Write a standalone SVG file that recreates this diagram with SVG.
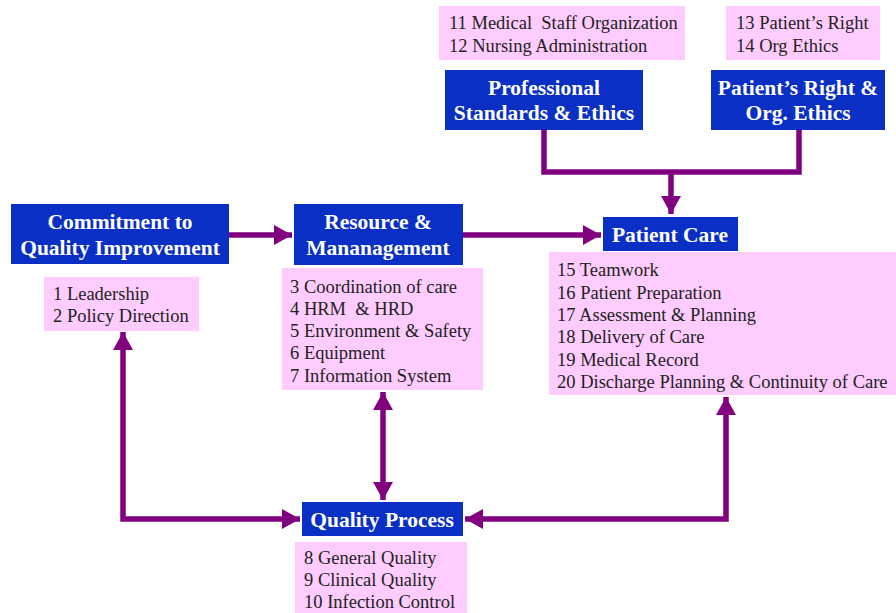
<svg xmlns="http://www.w3.org/2000/svg" width="896" height="613" viewBox="0 0 896 613">
<defs>
<style>
.blue{fill:#0a2fc4;}
.pink{fill:#ffccff;}
.bt{font-family:"Liberation Serif","Times New Roman",serif;font-weight:bold;font-size:21.5px;fill:#ffffff;text-anchor:middle;}
.pt{font-family:"Liberation Serif","Times New Roman",serif;font-size:18.5px;fill:#222222;white-space:pre;}
.ln{fill:none;stroke:#800080;stroke-width:5.5;}
</style>
<marker id="ah" markerUnits="userSpaceOnUse" markerWidth="20" markerHeight="20" viewBox="0 0 20 20" refX="18" refY="10" orient="auto-start-reverse">
<path d="M0,0 L18,10 L0,20 Z" fill="#800080"/>
</marker>
</defs>
<rect width="896" height="613" fill="#ffffff"/>

<g id="connectors">
<path class="ln" d="M544,130 V172 H799 V130"/>
<path class="ln" d="M671,172 V214" marker-end="url(#ah)"/>
<path class="ln" d="M229,235 H292" marker-end="url(#ah)"/>
<path class="ln" d="M463,235 H601" marker-end="url(#ah)"/>
<path class="ln" d="M123,332 V519 H300" marker-start="url(#ah)" marker-end="url(#ah)"/>
<path class="ln" d="M383,392 V500" marker-start="url(#ah)" marker-end="url(#ah)"/>
<path class="ln" d="M465,519 H726 V397" marker-start="url(#ah)" marker-end="url(#ah)"/>
</g>

<g id="list-prof">
<rect class="pink" x="439" y="6" width="246" height="54"/>
<text class="pt" x="449" y="29" xml:space="preserve">11 Medical  Staff Organization</text>
<text class="pt" x="449" y="52">12 Nursing Administration</text>
</g>
<g id="list-right">
<rect class="pink" x="726" y="6" width="154" height="54"/>
<text class="pt" x="736" y="29">13 Patient’s Right</text>
<text class="pt" x="736" y="52">14 Org Ethics</text>
</g>
<g id="prof">
<rect class="blue" x="445" y="70" width="198" height="60"/>
<text class="bt" x="544" y="95">Professional</text>
<text class="bt" x="544" y="120">Standards &amp; Ethics</text>
</g>
<g id="right">
<rect class="blue" x="711" y="70" width="174" height="60"/>
<text class="bt" x="798" y="95">Patient’s Right &amp;</text>
<text class="bt" x="798" y="120">Org. Ethics</text>
</g>

<g id="commitment">
<rect class="blue" x="11" y="204" width="218" height="60"/>
<text class="bt" x="120" y="229">Commitment to</text>
<text class="bt" x="120" y="255">Quality Improvement</text>
</g>
<g id="list-commit">
<rect class="pink" x="44" y="277" width="155" height="54"/>
<text class="pt" x="53" y="300">1 Leadership</text>
<text class="pt" x="53" y="322">2 Policy Direction</text>
</g>

<g id="resource">
<rect class="blue" x="294" y="204" width="169" height="61"/>
<text class="bt" x="378" y="229">Resource &amp;</text>
<text class="bt" x="378" y="255">Mananagement</text>
</g>
<g id="list-resource">
<rect class="pink" x="282" y="268" width="201" height="122"/>
<text class="pt" x="290" y="293">3 Coordination of care</text>
<text class="pt" x="290" y="315" xml:space="preserve">4 HRM  &amp; HRD</text>
<text class="pt" x="290" y="337">5 Environment &amp; Safety</text>
<text class="pt" x="290" y="359">6 Equipment</text>
<text class="pt" x="290" y="382">7 Information System</text>
</g>

<g id="patient-care">
<rect class="blue" x="603" y="217" width="135" height="34"/>
<text class="bt" x="670" y="242">Patient Care</text>
</g>
<g id="list-care">
<rect class="pink" x="549" y="252" width="347" height="143"/>
<text class="pt" x="557" y="276">15 Teamwork</text>
<text class="pt" x="557" y="299">16 Patient Preparation</text>
<text class="pt" x="557" y="321">17 Assessment &amp; Planning</text>
<text class="pt" x="557" y="343">18 Delivery of Care</text>
<text class="pt" x="557" y="366">19 Medical Record</text>
<text class="pt" x="557" y="388">20 Discharge Planning &amp; Continuity of Care</text>
</g>

<g id="quality">
<rect class="blue" x="302" y="502" width="161" height="34"/>
<text class="bt" x="382" y="527">Quality Process</text>
</g>
<g id="list-quality">
<rect class="pink" x="295" y="542" width="172" height="71"/>
<text class="pt" x="304" y="564">8 General Quality</text>
<text class="pt" x="304" y="586">9 Clinical Quality</text>
<text class="pt" x="304" y="608">10 Infection Control</text>
</g>
</svg>
